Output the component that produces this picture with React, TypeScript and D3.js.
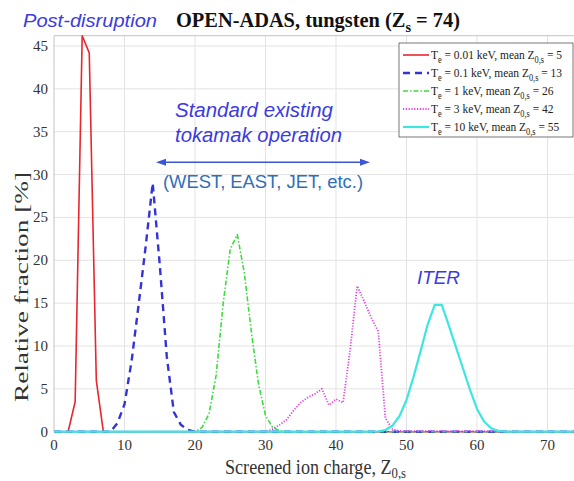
import React from 'react';
import * as d3 from 'd3';

// Screened ion charge Z_0,s (integer) ; relative fraction [%]
const zEnd = 74;
const redStart = 2;
const redValues = [0, 3.5, 46.2, 44.2, 6, 0];
const blueStart = 8;
const blueValues = [0, 1.0, 3.2, 8.2, 14.8, 21.6, 29, 19.5, 8.75, 2.3, 0.8, 0.2, 0];
const greenStart = 20;
const greenValues = [0, 0.5, 2.1, 6.6, 15, 21.3, 23, 18.5, 11.6, 5.6, 1.9, 0.5, 0.1, 0];
const pinkStart = 30;
const pinkValues = [0, 0.3, 0.8, 1.4, 2.5, 3.4, 4.0, 4.4, 5.0, 3.1, 3.8, 3.4, 9.5, 17, 15.2, 13.3, 11.7, 1.6, 0.3, 0.1, 0.05, 0.05, 0.05, 0.05, 0.05, 0.05, 0.05, 0.05, 0.05, 0.05, 0.05, 0.05, 0.05, 0];
const cyanStart = 44;
const cyanValues = [0, 0.02, 0.05, 0.2, 0.7, 1.8, 3.7, 6.4, 9.4, 12.5, 14.8, 14.8, 12.4, 9.9, 7.4, 4.9, 2.65, 1.2, 0.4, 0.1, 0];

const seriesTemps = ['0.01', '0.1', '1', '3', '10'];
const seriesMeans = ['5', '13', '26', '42', '55'];

const xTicks = [0, 10, 20, 30, 40, 50, 60, 70];
const yTicks = [0, 5, 10, 15, 20, 25, 30, 35, 40, 45];

function build(start: number, vals: number[]): [number, number][] {
  const pts: [number, number][] = [[0, 0]];
  vals.forEach((v, i) => pts.push([start + i, v]));
  pts.push([zEnd, 0]);
  return pts;
}

const styles = [
  { color: '#e8262c', width: 1.6, dash: undefined as string | undefined },
  { color: '#3434d6', width: 2.4, dash: '7,5' },
  { color: '#3ddc3d', width: 1.6, dash: '5,2,1.5,2' },
  { color: '#e040e0', width: 1.8, dash: '1.2,1.6' },
  { color: '#3ee6e2', width: 2.2, dash: undefined as string | undefined },
];

export default function App() {
  const W = 574, H = 481;
  const x = d3.scaleLinear().domain([0, 73.76]).range([54, 574]);
  const y = d3.scaleLinear().domain([0, 46.2]).range([431.7, 35.7]);
  const line = d3.line<[number, number]>().x(d => x(d[0])).y(d => y(d[1]));
  const data = [
    build(redStart, redValues),
    build(blueStart, blueValues),
    build(greenStart, greenValues),
    build(pinkStart, pinkValues),
    build(cyanStart, cyanValues),
  ];
  const serif = '"Liberation Serif", "Times New Roman", serif';
  const sans = '"Liberation Sans", Arial, sans-serif';
  const x0 = x.range()[0], x1 = x.range()[1];
  const y0 = y.range()[0], y1 = y.range()[1];
  const legX = 399, legY = 43, legW = 174, legH = 94;
  const arrowY = 162.3, ax0 = 156, ax1 = 370;
  const arrowColor = '#3a55d8';
  const annot = '#3b3be0';
  return (
    <svg width={W} height={H} style={{ position: 'absolute', left: 0, top: 0, background: '#fff' }}>
      <defs>
        <clipPath id="plotclip"><rect x={x0} y={y1 - 2} width={x1 - x0} height={y0 - y1 + 4} /></clipPath>
      </defs>
      {/* grid */}
      {xTicks.filter(t => t > 0).map(t => (
        <line key={'gx' + t} x1={x(t)} x2={x(t)} y1={y1} y2={y0} stroke="#e3e3e3" strokeWidth={1} />
      ))}
      {yTicks.filter(t => t > 0).map(t => (
        <line key={'gy' + t} x1={x0} x2={x1} y1={y(t)} y2={y(t)} stroke="#e3e3e3" strokeWidth={1} />
      ))}
      {/* frame */}
      <line x1={x0} x2={x1} y1={y1} y2={y1} stroke="#c4c4c4" strokeWidth={1} />
      <line x1={x0} x2={x0} y1={y1} y2={y0} stroke="#c4c4c4" strokeWidth={1} />
      {/* tick labels */}
      {xTicks.map(t => (
        <text key={'xt' + t} x={x(t)} y={450} textAnchor="middle" fontFamily={serif} fontSize={15} fill="#333">{t}</text>
      ))}
      {yTicks.map(t => (
        <text key={'yt' + t} x={48} y={y(t) + 5} textAnchor="end" fontFamily={serif} fontSize={15} fill="#333">{t}</text>
      ))}
      {/* series */}
      <g clipPath="url(#plotclip)">
        {data.map((d, i) => (
          <path key={'s' + i} d={line(d) || ''} fill="none" stroke={styles[i].color} strokeWidth={styles[i].width}
            strokeDasharray={styles[i].dash} strokeLinejoin="round" />
        ))}
      </g>
      {/* axis labels */}
      <text x={225} y={474} fontFamily={serif} fontSize={20} fill="#333" textLength={181} lengthAdjust="spacingAndGlyphs">
        Screened ion charge, Z<tspan dy={4} fontSize={14}>0,s</tspan>
      </text>
      <text transform="translate(28,402) rotate(-90)" fontFamily={serif} fontSize={19} fill="#333" textLength={230} lengthAdjust="spacingAndGlyphs">
        Relative fraction [%]
      </text>
      {/* title */}
      <text x={176} y={27} fontFamily={serif} fontSize={20} fontWeight="bold" fill="#111" textLength={284} lengthAdjust="spacingAndGlyphs">
        OPEN-ADAS, tungsten (Z<tspan dy={5} fontSize={14}>s</tspan><tspan dy={-5}> = 74)</tspan>
      </text>
      {/* annotations */}
      <text x={23} y={27} fontFamily={sans} fontSize={19} fontStyle="italic" fill={annot} textLength={134} lengthAdjust="spacingAndGlyphs">Post-disruption</text>
      <text x={175} y={117} fontFamily={sans} fontSize={19.5} fontStyle="italic" fill={annot} textLength={158} lengthAdjust="spacingAndGlyphs">Standard existing</text>
      <text x={175} y={141.5} fontFamily={sans} fontSize={19.5} fontStyle="italic" fill={annot} textLength={167} lengthAdjust="spacingAndGlyphs">tokamak operation</text>
      <line x1={ax0 + 8} x2={ax1 - 8} y1={arrowY} y2={arrowY} stroke={arrowColor} strokeWidth={1.5} />
      <path d={`M${ax0},${arrowY} L${ax0 + 10},${arrowY - 3.5} L${ax0 + 10},${arrowY + 3.5} Z`} fill={arrowColor} />
      <path d={`M${ax1},${arrowY} L${ax1 - 10},${arrowY - 3.5} L${ax1 - 10},${arrowY + 3.5} Z`} fill={arrowColor} />
      <text x={163} y={188} fontFamily={sans} fontSize={18} fill="#2f6fb8" textLength={200} lengthAdjust="spacingAndGlyphs">(WEST, EAST, JET, etc.)</text>
      <text x={417} y={284} fontFamily={sans} fontSize={18} fontStyle="italic" fill={annot} textLength={43} lengthAdjust="spacingAndGlyphs">ITER</text>
      {/* legend */}
      <rect x={legX} y={legY} width={legW} height={legH} fill="#fff" stroke="#555" strokeWidth={0.8} />
      {styles.map((s, i) => {
        const ly = 55 + i * 18;
        return (
          <g key={'lg' + i}>
            <line x1={403} x2={429} y1={ly} y2={ly} stroke={s.color} strokeWidth={s.width} strokeDasharray={s.dash} />
            <text transform={`translate(431,${ly + 4}) scale(0.88,1)`} fontFamily={serif} fontSize={13} fill="#222">
              T<tspan dy={3.5} fontSize={9.5}>e</tspan><tspan dy={-3.5}>{` = ${seriesTemps[i]} keV, mean Z`}</tspan><tspan dy={3.5} fontSize={9.5}>0,s</tspan><tspan dy={-3.5}>{` = ${seriesMeans[i]}`}</tspan>
            </text>
          </g>
        );
      })}
    </svg>
  );
}
